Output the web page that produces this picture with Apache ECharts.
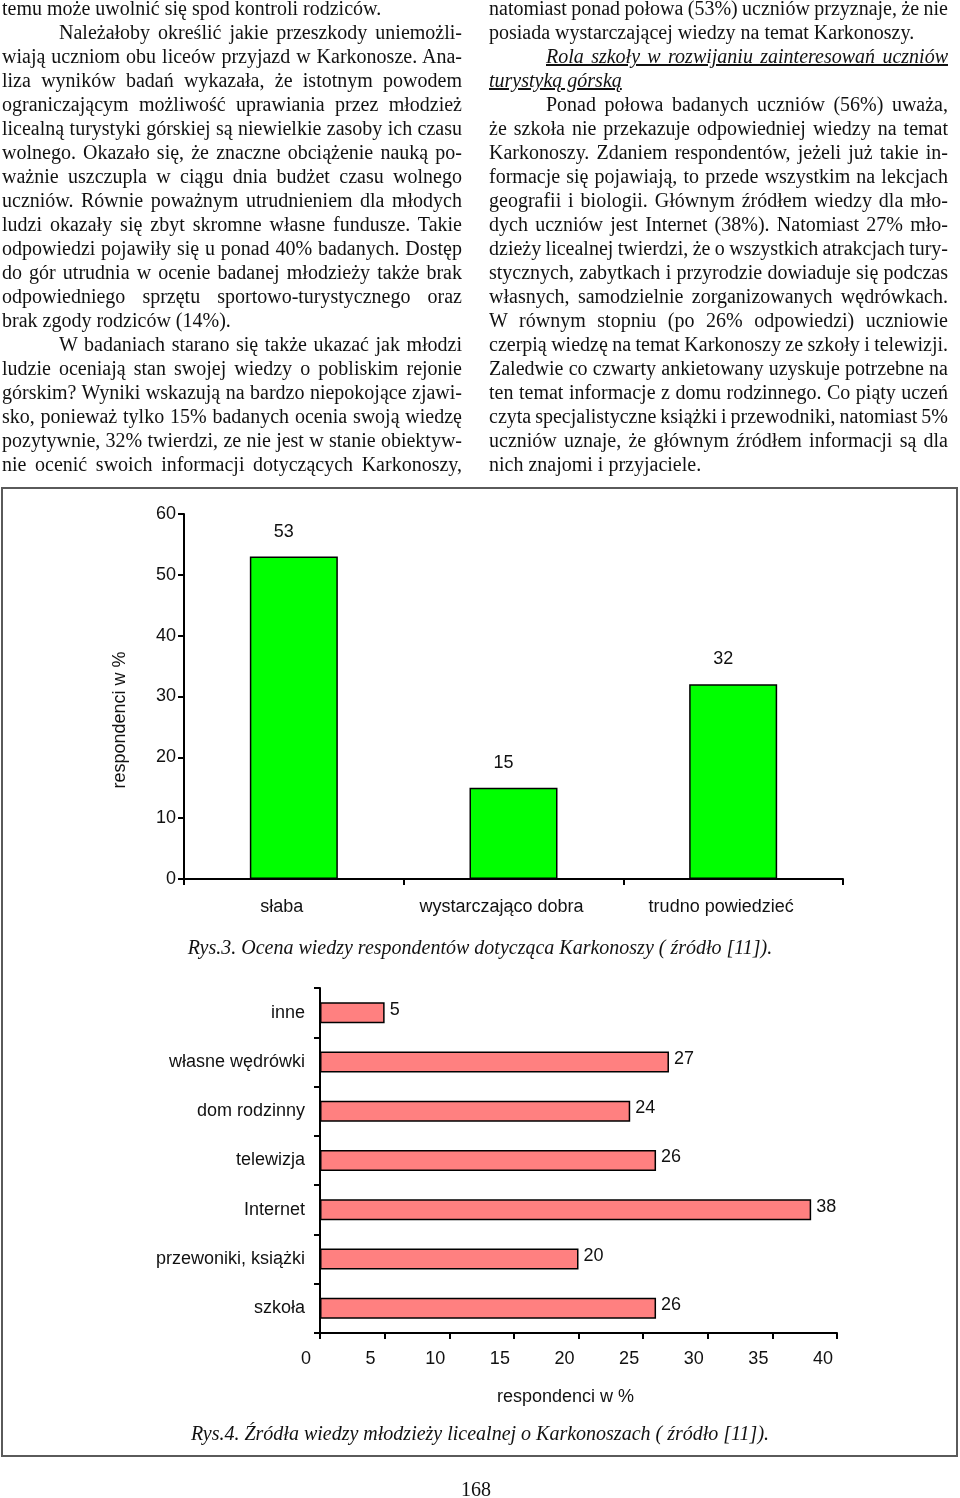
<!DOCTYPE html>
<html>
<head>
<meta charset="utf-8">
<script src="https://cdn.jsdelivr.net/npm/echarts@6/dist/echarts.min.js"></script>
<style>
  html, body { margin:0; padding:0; background:#fff; }
  body { width:960px; height:1498px; position:relative; overflow:hidden; }
  #chart { position:absolute; left:0; top:0; width:960px; height:1498px; }
  .frame { position:absolute; left:1px; top:487px; width:953px; height:966px; border:2px solid #5a5a5a; }
  .col { position:absolute; top:-4px; font-family:"Liberation Serif","Times New Roman",serif; font-size:20px; color:#111; }
  .l { height:24px; line-height:24px; white-space:nowrap; }
  .j { text-align:justify; text-align-last:justify; word-spacing:-2.5px; }
  .ind { padding-left:57px; }
  .iu { font-style:italic; text-decoration:underline; }
  .cap { position:absolute; left:0; width:960px; text-align:center; font-family:"Liberation Serif","Times New Roman",serif; font-style:italic; font-size:20px; color:#111; line-height:24px; }
  .pg { position:absolute; left:0; width:952px; text-align:center; font-family:"Liberation Serif","Times New Roman",serif; font-size:20px; color:#111; line-height:24px; }
</style>
</head>
<body>
<div id="chart"></div>
<div class="frame"></div>

<div class="col" style="left:2px; width:460px;">
  <div class="l">temu może uwolnić się spod kontroli rodziców.</div>
  <div class="l j ind">Należałoby określić jakie przeszkody uniemożli-</div>
  <div class="l j">wiają uczniom obu liceów przyjazd w Karkonosze. Ana-</div>
  <div class="l j">liza wyników badań wykazała, że istotnym powodem</div>
  <div class="l j">ograniczającym możliwość uprawiania przez młodzież</div>
  <div class="l j">licealną  turystyki górskiej są niewielkie zasoby ich czasu</div>
  <div class="l j">wolnego. Okazało się, że znaczne obciążenie nauką  po-</div>
  <div class="l j">ważnie uszczupla w ciągu dnia budżet  czasu wolnego</div>
  <div class="l j">uczniów. Równie poważnym utrudnieniem dla młodych</div>
  <div class="l j">ludzi okazały się zbyt skromne własne fundusze. Takie</div>
  <div class="l j">odpowiedzi pojawiły się u ponad 40% badanych. Dostęp</div>
  <div class="l j">do gór utrudnia w ocenie badanej młodzieży także brak</div>
  <div class="l j">odpowiedniego sprzętu sportowo-turystycznego oraz</div>
  <div class="l">brak zgody rodziców (14%).</div>
  <div class="l j ind">W badaniach starano się także ukazać jak młodzi</div>
  <div class="l j">ludzie oceniają stan swojej wiedzy o pobliskim rejonie</div>
  <div class="l j">górskim? Wyniki wskazują na bardzo niepokojące zjawi-</div>
  <div class="l j">sko, ponieważ tylko 15% badanych ocenia swoją wiedzę</div>
  <div class="l j">pozytywnie, 32% twierdzi, ze nie jest w stanie obiektyw-</div>
  <div class="l j">nie ocenić swoich informacji dotyczących Karkonoszy,</div>
</div>

<div class="col" style="left:489px; width:459px;">
  <div class="l j">natomiast ponad połowa (53%) uczniów przyznaje, że nie</div>
  <div class="l">posiada wystarczającej wiedzy na temat Karkonoszy.</div>
  <div class="l j ind"><span class="iu">Rola szkoły w rozwijaniu zainteresowań uczniów</span></div>
  <div class="l"><span class="iu">turystyką górską</span></div>
  <div class="l j ind">Ponad połowa badanych uczniów (56%) uważa,</div>
  <div class="l j">że szkoła nie przekazuje odpowiedniej wiedzy na temat</div>
  <div class="l j">Karkonoszy. Zdaniem respondentów, jeżeli już takie in-</div>
  <div class="l j">formacje się pojawiają, to przede wszystkim na lekcjach</div>
  <div class="l j">geografii i biologii. Głównym źródłem wiedzy dla mło-</div>
  <div class="l j">dych uczniów jest Internet  (38%). Natomiast 27% mło-</div>
  <div class="l j">dzieży licealnej twierdzi, że o wszystkich atrakcjach tury-</div>
  <div class="l j">stycznych, zabytkach i przyrodzie dowiaduje się podczas</div>
  <div class="l j">własnych, samodzielnie zorganizowanych wędrówkach.</div>
  <div class="l j">W równym stopniu (po 26% odpowiedzi) uczniowie</div>
  <div class="l j">czerpią wiedzę na temat Karkonoszy ze szkoły i telewizji.</div>
  <div class="l j">Zaledwie co czwarty ankietowany uzyskuje potrzebne na</div>
  <div class="l j">ten temat informacje z domu rodzinnego. Co piąty uczeń</div>
  <div class="l j">czyta specjalistyczne książki i przewodniki, natomiast 5%</div>
  <div class="l j">uczniów uznaje, że głównym źródłem informacji są dla</div>
  <div class="l">nich znajomi i przyjaciele.</div>
</div>

<div class="cap" style="top:935px;">Rys.3. Ocena wiedzy respondentów dotycząca Karkonoszy ( źródło [11]).</div>
<div class="cap" style="top:1421px;">Rys.4. Źródła wiedzy młodzieży licealnej o Karkonoszach ( źródło [11]).</div>
<div class="pg" style="top:1477px;">168</div>

<script>
// Chart 1 (Rys.3)
const ratingCategories = ['słaba', 'wystarczająco dobra', 'trudno powiedzieć'];
const ratingValues = [53, 15, 32];
// Chart 2 (Rys.4), bottom to top
const sourceCategories = ['szkoła', 'przewoniki, książki', 'Internet', 'telewizja', 'dom rodzinny', 'własne wędrówki', 'inne'];
const sourceValues = [26, 20, 38, 26, 24, 27, 5];

const FONT = 'Liberation Sans, Arial, sans-serif';
const FS = 18;
const ink = '#111';
const axisLine = { show: true, lineStyle: { color: '#000', width: 2 } };
const axisTick = { show: true, length: 6, lineStyle: { color: '#000', width: 2 } };

const chart = echarts.init(document.getElementById('chart'), null, { renderer: 'canvas' });
chart.setOption({
  animation: false,
  backgroundColor: 'transparent',
  grid: [
    { left: 184, top: 514, width: 659, height: 365 },
    { left: 320, top: 988, width: 517, height: 345 }
  ],
  xAxis: [
    {
      gridIndex: 0, type: 'category', data: ratingCategories,
      axisLine: axisLine,
      axisTick: Object.assign({ interval: 0, alignWithLabel: false }, axisTick),
      axisLabel: { interval: 0, margin: 19, fontSize: FS, fontFamily: FONT, color: ink, padding: [0, 24, 0, 0] }
    },
    {
      gridIndex: 1, type: 'value', min: 0, max: 40, interval: 5,
      splitLine: { show: false },
      axisLine: axisLine, axisTick: axisTick,
      axisLabel: { margin: 17, fontSize: FS, fontFamily: FONT, color: ink, padding: [0, 28, 0, 0] },
      name: 'respondenci w %', nameLocation: 'middle', nameGap: 55,
      nameTextStyle: { fontSize: FS, fontFamily: FONT, color: ink, padding: [0, 26, 0, 0] }
    }
  ],
  yAxis: [
    {
      gridIndex: 0, type: 'value', min: 0, max: 60, interval: 10,
      splitLine: { show: false },
      axisLine: axisLine, axisTick: axisTick,
      axisLabel: { margin: 8, fontSize: FS, fontFamily: FONT, color: ink }
    },
    {
      gridIndex: 1, type: 'category', data: sourceCategories,
      axisLine: axisLine,
      axisTick: Object.assign({ interval: 0, alignWithLabel: false }, axisTick),
      axisLabel: { interval: 0, margin: 15, fontSize: FS, fontFamily: FONT, color: ink }
    }
  ],
  graphic: [
    {
      type: 'text', x: 120, y: 720, rotation: Math.PI / 2,
      style: { text: 'respondenci w %', fontSize: FS, fontFamily: FONT, fill: ink, align: 'center', verticalAlign: 'middle' }
    }
  ],
  series: [
    {
      type: 'bar', xAxisIndex: 0, yAxisIndex: 0, data: ratingValues, barWidth: 88,
      itemStyle: { color: '#00ff00', borderColor: '#000', borderWidth: 1.5 },
      label: { show: true, position: 'top', distance: 16, offset: [-10, 0], fontSize: FS, fontFamily: FONT, color: ink }
    },
    {
      type: 'bar', xAxisIndex: 1, yAxisIndex: 1, data: sourceValues, barWidth: 21,
      itemStyle: { color: '#ff8080', borderColor: '#000', borderWidth: 1.5 },
      label: { show: true, position: 'right', distance: 5, offset: [0, -3], fontSize: FS, fontFamily: FONT, color: ink }
    }
  ]
});
</script>
</body>
</html>
